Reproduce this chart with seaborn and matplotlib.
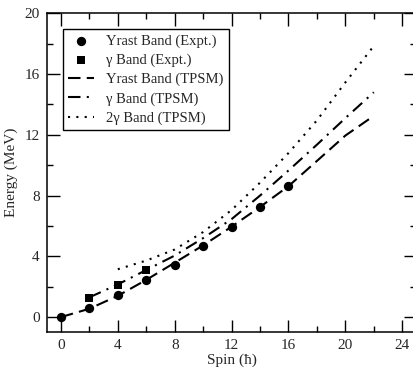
import pandas as pd
import seaborn as sns
import matplotlib.pyplot as plt
from matplotlib.ticker import MultipleLocator

# data
spin_yrast_expt = [0, 2, 4, 6, 8, 10, 12, 14, 16]
e_yrast_expt = [0.0, 0.61, 1.43, 2.41, 3.40, 4.65, 5.91, 7.25, 8.61]

spin_gamma_expt = [2, 4, 6]
e_gamma_expt = [1.25, 2.13, 3.12]

spin_yrast_tpsm = [0, 2, 4, 6, 8, 10, 12, 14, 16, 18, 20, 22]
e_yrast_tpsm = [0.0, 0.55, 1.40, 2.45, 3.58, 4.72, 5.95, 7.25, 8.62, 10.28, 11.95, 13.25]

spin_gamma_tpsm = [2, 4, 6, 8, 10, 12, 14, 16, 18, 20, 22]
e_gamma_tpsm = [1.30, 2.15, 3.10, 4.05, 5.20, 6.45, 8.0, 9.65, 11.35, 13.1, 14.8]

spin_2gamma_tpsm = [4, 6, 8, 10, 12, 14, 16, 18, 20, 22]
e_2gamma_tpsm = [3.15, 3.72, 4.45, 5.6, 7.05, 8.85, 10.8, 12.95, 15.45, 17.85]

sns.set_style("ticks")
plt.rcParams['font.family'] = ['Liberation Serif', 'DejaVu Serif']
plt.rc('font', size=11)
plt.rc('axes', linewidth=1.1)

fig = plt.figure(figsize=(4.14, 3.69), dpi=100)
ax = fig.add_axes([0.1128, 0.0995, 0.8932, 0.8645])

lw = 1.5
sns.lineplot(x=spin_yrast_tpsm, y=e_yrast_tpsm, ax=ax, color='k', lw=lw,
             linestyle=(0, (6, 3)), label='Yrast Band (TPSM)')
sns.lineplot(x=spin_gamma_tpsm, y=e_gamma_tpsm, ax=ax, color='k', lw=lw,
             linestyle=(0, (6, 3, 1, 3)), label='γ Band (TPSM)')
sns.lineplot(x=spin_2gamma_tpsm, y=e_2gamma_tpsm, ax=ax, color='k', lw=lw,
             linestyle=(0, (1, 3)), label='2γ Band (TPSM)')
sns.scatterplot(x=spin_yrast_expt, y=e_yrast_expt, ax=ax, color='k', marker='o',
                s=45, edgecolor='k', linewidth=0, label='Yrast Band (Expt.)', zorder=3)
sns.scatterplot(x=spin_gamma_expt, y=e_gamma_expt, ax=ax, color='k', marker='s',
                s=38, edgecolor='k', linewidth=0, label='γ Band (Expt.)', zorder=3)

ax.set_xlim(-1, 25)
ax.set_ylim(-1, 20)
ax.xaxis.set_major_locator(MultipleLocator(4))
ax.xaxis.set_minor_locator(MultipleLocator(2))
ax.yaxis.set_major_locator(MultipleLocator(4))
ax.yaxis.set_minor_locator(MultipleLocator(2))
ax.tick_params(which='both', direction='in', top=True, right=True, width=1.0,
               labelsize=11, pad=5, color='k')
ax.tick_params(which='major', length=9)
ax.tick_params(which='minor', length=4.5)
for s in ax.spines.values():
    s.set_color('k')

ax.set_xlabel('Spin (ħ)', fontsize=11, labelpad=1)
ax.set_ylabel('Energy (MeV)', fontsize=11, labelpad=5)

handles, labels = ax.get_legend_handles_labels()
order = ['Yrast Band (Expt.)', 'γ Band (Expt.)', 'Yrast Band (TPSM)',
         'γ Band (TPSM)', '2γ Band (TPSM)']
hmap = dict(zip(labels, handles))
leg = ax.legend([hmap[k] for k in order], order, loc='upper left',
                bbox_to_anchor=(0.045, 0.95), borderaxespad=0, fontsize=10.5,
                frameon=True, fancybox=False, edgecolor='k', framealpha=1,
                labelspacing=0.4, handlelength=1.75, handletextpad=0.85,
                borderpad=0.35)
leg.get_frame().set_linewidth(1.0)

fig.savefig('out.png', dpi=100)
